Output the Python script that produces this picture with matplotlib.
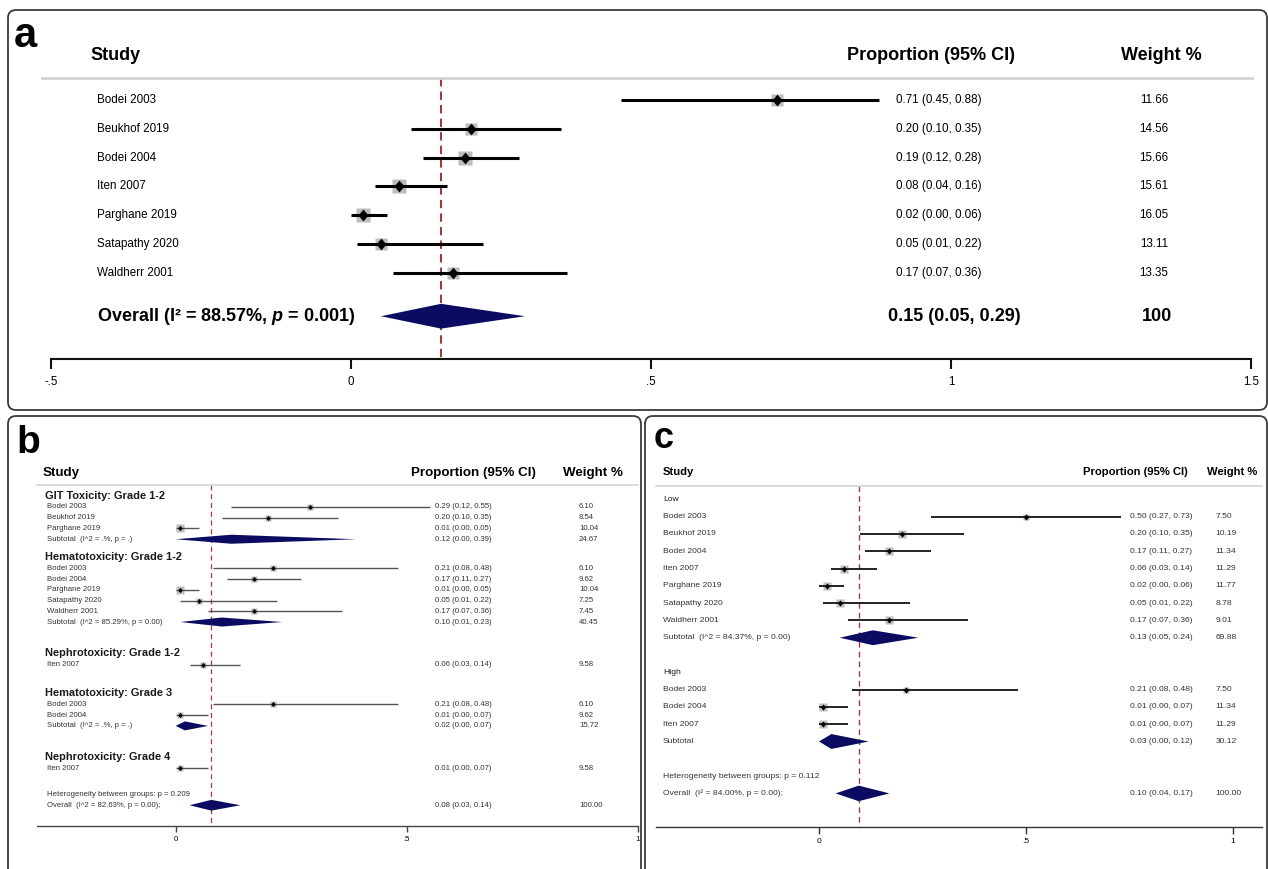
import numpy as np
import matplotlib
matplotlib.use("Agg")
import matplotlib.pyplot as plt
from matplotlib.patches import FancyBboxPatch

plt.rcParams['font.family'] = ['Liberation Sans', 'DejaVu Sans']
plt.rcParams['mathtext.fontset'] = 'custom'
plt.rcParams['mathtext.it'] = 'Liberation Sans:italic:bold'

# ---------------- panel a : all studies ----------------
a_studies = ["Bodei 2003", "Beukhof 2019", "Bodei 2004", "Iten 2007",
             "Parghane 2019", "Satapathy 2020", "Waldherr 2001"]
a_est = [0.71, 0.20, 0.19, 0.08, 0.02, 0.05, 0.17]
a_lo = [0.45, 0.10, 0.12, 0.04, 0.00, 0.01, 0.07]
a_hi = [0.88, 0.35, 0.28, 0.16, 0.06, 0.22, 0.36]
a_wt = [11.66, 14.56, 15.66, 15.61, 16.05, 13.11, 13.35]
a_overall = [0.15, 0.05, 0.29]
a_overall_label = "Overall (I\u00b2 = 88.57%, $p$ = 0.001)"
a_ticks = [-0.5, 0, 0.5, 1, 1.5]
a_ticklabels = ["-.5", "0", ".5", "1", "1.5"]

# ---------------- panel b : by toxicity ----------------
b_groups = ["GIT Toxicity: Grade 1-2", "Hematotoxicity: Grade 1-2",
            "Nephrotoxicity: Grade 1-2", "Hematotoxicity: Grade 3",
            "Nephrotoxicity: Grade 4"]
b_studies = [["Bodei 2003", "Beukhof 2019", "Parghane 2019"],
             ["Bodei 2003", "Bodei 2004", "Parghane 2019", "Satapathy 2020", "Waldherr 2001"],
             ["Iten 2007"],
             ["Bodei 2003", "Bodei 2004"],
             ["Iten 2007"]]
b_est = [[0.29, 0.20, 0.01], [0.21, 0.17, 0.01, 0.05, 0.17], [0.06], [0.21, 0.01], [0.01]]
b_lo = [[0.12, 0.10, 0.00], [0.08, 0.11, 0.00, 0.01, 0.07], [0.03], [0.08, 0.00], [0.00]]
b_hi = [[0.55, 0.35, 0.05], [0.48, 0.27, 0.05, 0.22, 0.36], [0.14], [0.48, 0.07], [0.07]]
b_wt = [[6.10, 8.54, 10.04], [6.10, 9.62, 10.04, 7.25, 7.45], [9.58], [6.10, 9.62], [9.58]]
b_sub_est = [0.12, 0.10, None, 0.02, None]
b_sub_lo = [0.00, 0.01, None, 0.00, None]
b_sub_hi = [0.39, 0.23, None, 0.07, None]
b_sub_wt = [24.67, 40.45, None, 15.72, None]
b_sub_stats = ["(I^2 = .%, p = .)", "(I^2 = 85.29%, p = 0.00)", None, "(I^2 = .%, p = .)", None]
b_overall = [0.077, 0.03, 0.14]
b_overall_label = "Overall  (I^2 = 82.63%, p = 0.00);"
b_het_label = "Heterogeneity between groups: p = 0.209"

# ---------------- panel c : by dose ----------------
c_groups = ["Low", "High"]
c_studies = [["Bodei 2003", "Beukhof 2019", "Bodei 2004", "Iten 2007",
              "Parghane 2019", "Satapathy 2020", "Waldherr 2001"],
             ["Bodei 2003", "Bodei 2004", "Iten 2007"]]
c_est = [[0.50, 0.20, 0.17, 0.06, 0.02, 0.05, 0.17], [0.21, 0.01, 0.01]]
c_lo = [[0.27, 0.10, 0.11, 0.03, 0.00, 0.01, 0.07], [0.08, 0.00, 0.00]]
c_hi = [[0.73, 0.35, 0.27, 0.14, 0.06, 0.22, 0.36], [0.48, 0.07, 0.07]]
c_wt = [[7.50, 10.19, 11.34, 11.29, 11.77, 8.78, 9.01], [7.50, 11.34, 11.29]]
c_sub_est = [0.13, 0.03]
c_sub_lo = [0.05, 0.00]
c_sub_hi = [0.24, 0.12]
c_sub_wt = [69.88, 30.12]
c_sub_stats = ["(I^2 = 84.37%, p = 0.00)", ""]
c_overall = [0.096, 0.04, 0.17]
c_overall_label = "Overall  (I\u00b2 = 84.00%, p = 0.00);"
c_het_label = "Heterogeneity between groups: p = 0.112"
bc_ticks = [0, 0.5, 1]
bc_ticklabels = ["0", ".5", "1"]

W, H = 1268, 869
fig = plt.figure(figsize=(W / 100, H / 100), dpi=100)

NAVY = '#0b0b62'
RED = '#9e3b3b'
GREY_BOX = '#bdbdbd'
SEP = '#d4d4d4'
DIAMOND = [(0, 1), (0.85, 0), (0, -1), (-0.85, 0)]


def add_panel_axes(left, top, right, bottom):
    return fig.add_axes([left / W, 1 - bottom / H, (right - left) / W, (bottom - top) / H])


def style_axis(ax, xlim, ylim, ticks, labels, lw, ticklen, fs, pad, color):
    ax.set_xlim(*xlim)
    ax.set_ylim(*ylim)
    for s in ('top', 'left', 'right'):
        ax.spines[s].set_visible(False)
    ax.spines['bottom'].set_linewidth(lw)
    ax.spines['bottom'].set_color(color)
    ax.set_yticks([])
    ax.set_xticks(ticks, labels)
    ax.tick_params(axis='x', direction='out', length=ticklen, width=lw,
                   labelsize=fs, pad=pad, color=color)
    ax.patch.set_visible(False)


def study(ax, y, est, lo, hi, wt, box_k, line_lw, line_c, dot_ms):
    ax.plot([lo, hi], [y, y], color=line_c, lw=line_lw, solid_capstyle='butt', zorder=3)
    ax.plot([est], [y], marker='s', ms=box_k * np.sqrt(wt), color=GREY_BOX, mec='none', zorder=2)
    ax.plot([est], [y], marker=DIAMOND, ms=dot_ms, color='black', mec='none', zorder=4)


def pooled(ax, y, est, lo, hi, half):
    ax.fill([lo, est, hi, est], [y, y - half, y, y + half], color=NAVY, lw=0, zorder=3)


def ci_text(est, lo, hi):
    return "%.2f (%.2f, %.2f)" % (est, lo, hi)


# panel frames
for x0, y0, x1, y1 in [(8, 10, 1267, 410), (8, 416, 641, 890), (645, 416, 1267, 890)]:
    fig.add_artist(FancyBboxPatch((x0 / 100, (H - y1) / 100), (x1 - x0) / 100, (y1 - y0) / 100,
                                  boxstyle='round,pad=0,rounding_size=0.08',
                                  transform=fig.dpi_scale_trans, fill=False,
                                  ec='#3a3a3a', lw=1.3))

fig.text(14 / W, 1 - 47 / H, "a", fontsize=30, weight='bold', va='baseline')
fig.text(16 / W, 1 - 453 / H, "b", fontsize=28, weight='bold', va='baseline')
fig.text(654 / W, 1 - 448 / H, "c", fontsize=26, weight='bold', va='baseline')

# ================= panel a =================
ax_a = add_panel_axes(51, 30, 1251, 359)
style_axis(ax_a, (-0.5, 1.5), (8.984, -2.428), a_ticks, a_ticklabels,
           1.5, 7, 8.3, 5, '#111111')
col_a = lambda px: (px - 351) / 600.0

ax_a.text(col_a(90), -1.53, "Study", fontsize=13, weight='bold', va='center')
ax_a.text(col_a(931), -1.53, "Proportion (95% CI)", fontsize=13, weight='bold', va='center', ha='center')
ax_a.text(col_a(1161), -1.53, "Weight %", fontsize=13, weight='bold', va='center', ha='center')
ax_a.plot([col_a(42), col_a(1252)], [-0.763, -0.763], color=SEP, lw=2, clip_on=False)

for i, name in enumerate(a_studies):
    study(ax_a, i, a_est[i], a_lo[i], a_hi[i], a_wt[i], 2.4, 2.2, 'black', 8.5)
    ax_a.text(col_a(97), i, name, fontsize=8.4, va='center')
    ax_a.text(col_a(896), i, ci_text(a_est[i], a_lo[i], a_hi[i]), fontsize=8.4, va='center')
    ax_a.text(col_a(1154), i, "%.2f" % a_wt[i], fontsize=8.4, va='center', ha='center')

r_ov = len(a_studies) + 0.5
pooled(ax_a, r_ov, a_overall[0], a_overall[1], a_overall[2], 0.43)
ax_a.text(col_a(97), r_ov, a_overall_label, fontsize=13, weight='bold', va='center')
ax_a.text(col_a(888), r_ov, ci_text(*a_overall), fontsize=13, weight='bold', va='center')
ax_a.text(col_a(1157), r_ov, "100", fontsize=13, weight='bold', va='center', ha='center')
ax_a.plot([a_overall[0]] * 2, [-0.763, 8.984], color=RED, lw=1.5,
          linestyle=(0, (4, 2.5)), zorder=1)


# ================= panels b and c =================
def subgroup_panel(ax, col, groups, studies, est, lo, hi, wt, sub_est, sub_lo, sub_hi,
                   sub_wt, sub_stats, overall, overall_label, het_label, start, gaps,
                   head_step, het_gap, xs, fs, head_fs, head_bold, box_k, line_lw,
                   line_c, dot_ms, half, half_ov):
    x_head, x_lab, x_ci, x_wt = xs
    r = start
    for g, name in enumerate(groups):
        if g > 0:
            r += gaps[g - 1]
        ax.text(col(x_head), r, name, fontsize=head_fs,
                weight='bold' if head_bold else 'normal', va='center', color='#1a1a1a')
        r += head_step
        for k, nm in enumerate(studies[g]):
            study(ax, r, est[g][k], lo[g][k], hi[g][k], wt[g][k], box_k, line_lw, line_c, dot_ms)
            ax.text(col(x_lab), r, nm, fontsize=fs, va='center', color='#333333')
            ax.text(col(x_ci), r, ci_text(est[g][k], lo[g][k], hi[g][k]), fontsize=fs,
                    va='center', color='#333333')
            ax.text(col(x_wt), r, "%.2f" % wt[g][k], fontsize=fs, va='center', color='#333333')
            r += 1
        if sub_est[g] is not None:
            pooled(ax, r, sub_est[g], sub_lo[g], sub_hi[g], half)
            lab = "Subtotal  " + sub_stats[g] if sub_stats[g] else "Subtotal"
            ax.text(col(x_lab), r, lab, fontsize=fs, va='center', color='#333333')
            ax.text(col(x_ci), r, ci_text(sub_est[g], sub_lo[g], sub_hi[g]), fontsize=fs,
                    va='center', color='#333333')
            ax.text(col(x_wt), r, "%.2f" % sub_wt[g], fontsize=fs, va='center', color='#333333')
            r += 1
        r -= 1
    r += het_gap
    ax.text(col(x_lab), r, het_label, fontsize=fs, va='center', color='#333333')
    r += 1
    pooled(ax, r, overall[0], overall[1], overall[2], half_ov)
    ax.text(col(x_lab), r, overall_label, fontsize=fs, va='center', color='#333333')
    ax.text(col(x_ci), r, ci_text(*overall), fontsize=fs, va='center', color='#333333')
    ax.text(col(x_wt), r, "100.00", fontsize=fs, va='center', color='#333333')


# ---- panel b
ax_b = add_panel_axes(37, 440, 638, 826)
style_axis(ax_b, (-0.3, 1.0), (29.67, -6.23), bc_ticks, bc_ticklabels,
           1.0, 4.5, 5.6, 2.5, '#444444')
col_b = lambda px: (px - 176) / 462.0
ax_b.text(col_b(43), -3.19, "Study", fontsize=9.6, weight='bold', va='center')
ax_b.text(col_b(411), -3.19, "Proportion (95% CI)", fontsize=9.6, weight='bold', va='center')
ax_b.text(col_b(563), -3.19, "Weight %", fontsize=9.6, weight='bold', va='center')
ax_b.plot([-0.3, 1.0], [-2.05, -2.05], color=SEP, lw=1.2, clip_on=False)
ax_b.plot([b_overall[0]] * 2, [-2.05, 29.67], color=RED, lw=0.9,
          linestyle=(0, (4, 3)), zorder=1)
subgroup_panel(ax_b, col_b, b_groups, b_studies, b_est, b_lo, b_hi, b_wt,
               b_sub_est, b_sub_lo, b_sub_hi, b_sub_wt, b_sub_stats,
               b_overall, b_overall_label, b_het_label,
               -1.05, [1.65, 2.9, 2.66, 2.88], 1.05, 2.45, (45, 47, 435, 579),
               5.6, 7.9, True, 1.6, 1.0, '#555555', 3.8, 0.42, 0.5)

# ---- panel c
ax_c = add_panel_axes(656, 440, 1262, 826.7)
style_axis(ax_c, (-0.3937, 1.070), (18.925, -3.43), bc_ticks, bc_ticklabels,
           1.0, 5, 6.0, 3, '#333333')
col_c = lambda px: (px - 819) / 414.0
ax_c.text(col_c(662.7), -1.59, "Study", fontsize=8.1, weight='bold', va='center')
ax_c.text(col_c(1083), -1.59, "Proportion (95% CI)", fontsize=8.1, weight='bold', va='center')
ax_c.text(col_c(1206.7), -1.59, "Weight %", fontsize=8.1, weight='bold', va='center')
ax_c.plot([col_c(656), col_c(1262)], [-0.77, -0.77], color=SEP, lw=1.2, clip_on=False)
ax_c.plot([c_overall[0]] * 2, [-0.77, 18.925], color=RED, lw=1.0,
          linestyle=(0, (4, 3)), zorder=1)
subgroup_panel(ax_c, col_c, c_groups, c_studies, c_est, c_lo, c_hi, c_wt,
               c_sub_est, c_sub_lo, c_sub_hi, c_sub_wt, c_sub_stats,
               c_overall, c_overall_label, c_het_label,
               0, [2], 1, 2, (663, 663, 1130, 1215.7),
               6.1, 6.1, False, 1.75, 1.4, '#222222', 4.4, 0.43, 0.45)

fig.savefig("out.png", dpi=100)
